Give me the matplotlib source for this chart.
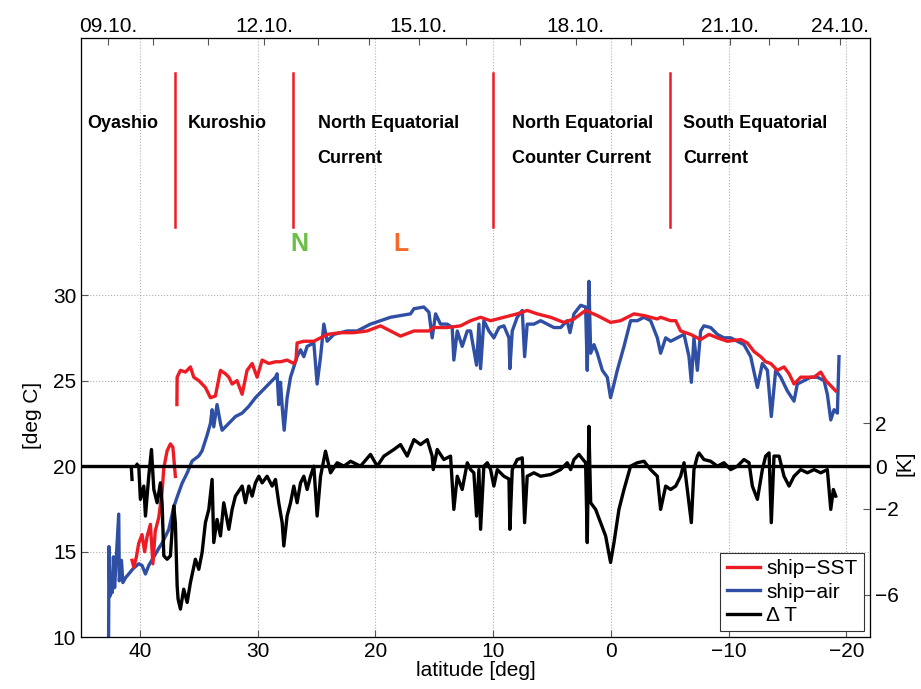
"""
Ship SST / air temperature along the cruise track vs latitude
"""
import matplotlib
matplotlib.use('Agg')
import matplotlib.pyplot as plt
import numpy as np

plt.rcParams['font.family'] = ['Liberation Sans', 'DejaVu Sans']
nan = np.nan

# ship-air temperature [deg C]
air_lat = [42.66, 42.63, 42.55, 42.45, 42.37, 42.25, 42.15, 41.80, 41.75, 41.57, 41.45, 41.2,
           40.95, 40.6, 40.10, 39.82, 39.53, 39.25, 38.82, 38.40, 38.12, 37.55, 37.13, 36.84,
           36.42, 35.99, 35.57, 35.00, 34.72, 34.30, 34.01, 33.87, 33.73, 33.45, 33.16, 33.02,
           32.45, 31.89, 31.32, 30.75, 30.19, 29.62, 29.06, 28.49, 28.35, 28.21, 28.06, 27.90,
           27.75, 27.50, 27.21, 26.93, 26.65, 26.36, 26.08, 25.80, 25.51, 25.23, 24.95, 24.66,
           24.38, 24.10, 23.53, 22.97, 22.40, 21.55, 20.42, 19.57, 18.72, 17.87, 17.02, 16.73,
           15.89, 15.46, 15.18, 14.89, 14.47, 13.90, 13.48, 13.34, 13.05, 12.63, 12.20, 11.92,
           11.64, 11.41, 11.21, 11.07, 10.79, 10.36, 9.94, 9.51, 9.09, 8.66, 8.58, 8.38,
           7.96, 7.53, 7.33, 7.11, 6.54, 5.97, 5.41, 4.84, 4.27, 3.71, 3.48, 3.14,
           2.57, 2.15, 2.01, 1.87, 1.72, 1.44, 1.16, 0.73, 0.31, 0.03, -0.26, -0.54,
           -1.11, -1.67, -2.24, -2.81, -3.37, -3.94, -4.22, -4.65, -5.07, -5.64, -6.21, -6.63,
           -6.83, -7.05, -7.34, -7.62, -7.90, -8.47, -9.04, -9.60, -10.17, -10.74, -11.30, -11.87,
           -12.44, -12.86, -13.29, -13.62, -13.99, -14.42, -14.98, -15.55, -15.83, -16.40, -16.97, -17.53,
           -18.10, -18.38, -18.67, -18.95, -19.23, -19.37]
air_temp = [10.0, 15.3, 12.4, 13.0, 12.6, 14.7, 12.9, 17.2, 13.3, 14.5, 13.2, 13.5,
            13.7, 14.0, 14.3, 14.2, 13.7, 14.2, 14.7, 15.2, 15.5, 16.3, 17.6, 18.2,
            19.0, 19.6, 20.3, 20.6, 20.9, 21.8, 22.5, 23.3, 22.3, 23.6, 22.5, 22.1,
            22.5, 22.9, 23.1, 23.5, 24.0, 24.4, 24.8, 25.2, 25.4, 23.6, 24.9, 23.3,
            22.1, 24.0, 25.2, 25.8, 26.4, 26.8, 26.4, 27.0, 27.1, 27.2, 24.8, 26.4,
            28.3, 27.3, 27.7, 27.8, 27.9, 27.9, 28.3, 28.5, 28.7, 28.8, 28.9, 29.2,
            29.3, 29.0, 27.5, 28.9, 28.3, 28.3, 28.1, 26.2, 27.9, 27.0, 27.9, 27.9,
            26.8, 25.9, 28.3, 25.7, 28.5, 27.9, 27.5, 28.1, 28.2, 27.5, 25.7, 27.9,
            28.7, 29.1, 26.4, 28.3, 28.3, 28.5, 28.3, 28.1, 28.1, 28.5, 27.8, 28.9,
            29.4, 29.3, 25.6, 30.8, 26.6, 27.1, 26.6, 25.6, 25.2, 24.0, 24.8, 25.6,
            27.0, 28.5, 28.5, 28.7, 28.5, 27.5, 26.6, 27.5, 27.3, 27.5, 27.7, 26.4,
            24.9, 27.5, 25.6, 27.9, 28.2, 28.1, 27.7, 27.5, 27.5, 27.3, 27.1, 26.4,
            24.6, 26.0, 25.6, 22.9, 25.6, 25.2, 24.4, 23.8, 24.8, 25.0, 25.2, 25.2,
            25.0, 24.2, 22.7, 23.3, 23.1, 26.4]

# ship-SST [deg C], nan = gap in record
sst_lat = [40.67, 40.52, 40.3, 40.10, 39.82, 39.6, 39.39, 39.11, 38.9, 38.7, 38.40, 38.12,
           37.97, 37.69, 37.41, 37.2, 36.99, 36.92, 36.86, 36.84, 36.56, 36.13, 35.71, 35.43,
           35.00, 34.44, 34.01, 33.59, 33.16, 32.74, 32.45, 32.17, 31.75, 31.32, 30.90, 30.47,
           30.05, 29.62, 29.06, 28.49, 28.06, 27.5, 26.93, 26.75, 26.65, 26.08, 25.23, 24.66,
           24.10, 22.97, 21.83, 20.70, 19.57, 18.72, 17.87, 16.73, 15.46, 15.04, 13.90, 12.77,
           11.92, 11.07, 10.22, 9.09, 7.96, 7.11, 6.26, 5.12, 4.0, 3.14, 2.15, 1.16,
           0.03, -0.82, -1.96, -2.81, -3.94, -4.22, -5.07, -5.50, -5.92, -6.77, -7.62, -8.33,
           -9.04, -9.89, -11.02, -11.59, -12.15, -12.72, -13.14, -13.57, -14.13, -14.70, -15.13, -15.55,
           -16.12, -16.68, -17.25, -17.82, -18.24, -18.67, -19.09]
sst_temp = [14.5, 14.1, 14.7, 15.5, 16.0, 15.0, 15.9, 16.6, 14.3, 16.2, 17.0, 18.5,
            19.9, 20.9, 21.3, 21.1, 19.4, nan, 23.6, 25.2, 25.6, 25.5, 25.8, 25.2,
            25.0, 24.6, 24.0, 24.1, 25.6, 25.4, 25.2, 24.8, 25.0, 24.2, 25.6, 26.0,
            25.2, 26.2, 26.0, 26.1, 26.1, 26.2, 26.0, 26.2, 27.2, 27.3, 27.3, 27.5,
            27.7, 27.8, 27.8, 27.9, 28.2, 27.9, 27.6, 27.9, 27.9, 28.1, 28.1, 28.2,
            28.5, 28.7, 28.5, 28.7, 28.9, 29.1, 28.9, 28.7, 28.4, 28.6, 29.1, 28.8,
            28.4, 28.5, 28.9, 28.8, 28.6, 28.7, 28.5, 28.5, 27.9, 27.7, 27.4, 27.7,
            27.5, 27.3, 27.4, 27.2, 26.7, 26.4, 26.1, 26.0, 25.6, 25.8, 25.4, 24.8,
            25.2, 25.2, 25.2, 25.5, 25.0, 24.7, 24.4]

# Delta T [K]
dt_lat = [40.72, 40.67, 40.6, 40.24, 40.10, 39.96, 39.67, 39.53, 39.25, 39.02, 38.82, 38.54,
          38.26, 38.12, 37.97, 37.69, 37.41, 37.13, 36.99, 36.84, 36.76, 36.56, 36.28, 35.99,
          35.71, 35.29, 35.00, 34.72, 34.44, 34.15, 33.87, 33.73, 33.45, 33.16, 32.88, 32.45,
          32.17, 31.89, 31.32, 31.04, 30.75, 30.47, 30.19, 29.90, 29.62, 29.20, 28.77, 28.49,
          28.21, 27.92, 27.78, 27.50, 27.21, 26.93, 26.65, 26.36, 26.08, 25.80, 25.51, 25.23,
          24.95, 24.66, 24.38, 24.24, 23.81, 23.25, 22.68, 22.11, 21.27, 20.42, 19.85, 19.28,
          18.43, 17.87, 17.30, 16.73, 16.17, 15.60, 15.18, 15.09, 14.75, 14.19, 13.62, 13.34,
          13.05, 12.63, 12.20, 11.92, 11.64, 11.41, 11.21, 11.07, 10.79, 10.50, 10.22, 9.94,
          9.65, 9.09, 8.66, 8.58, 8.38, 7.96, 7.53, 7.33, 7.11, 6.54, 5.97, 5.12,
          4.27, 3.71, 3.42, 3.14, 2.72, 2.15, 2.01, 1.87, 1.72, 1.30, 0.88, 0.45,
          0.03, -0.26, -0.68, -1.11, -1.67, -2.24, -2.81, -3.37, -3.94, -4.22, -4.65, -5.07,
          -5.50, -5.92, -6.21, -6.63, -6.83, -7.05, -7.34, -7.48, -7.90, -8.47, -9.04, -9.60,
          -10.17, -10.74, -11.30, -11.73, -12.01, -12.44, -12.86, -13.14, -13.43, -13.62, -13.85, -14.28,
          -14.70, -15.13, -15.55, -16.12, -16.68, -17.25, -17.82, -18.38, -18.67, -18.89, -19.09]
dt_val = [-0.16, -0.62, nan, 0.08, 0.0, -1.55, -0.93, -2.33, -0.47, 0.78, -1.09, -1.71,
          -0.78, -1.71, -4.19, -4.35, -4.19, -1.86, -2.64, -5.59, -6.21, -6.68, -5.75, -6.37,
          -5.44, -4.35, -4.82, -4.04, -2.64, -2.02, -0.62, -3.57, -2.49, -3.26, -1.71, -2.95,
          -2.02, -1.40, -0.93, -1.71, -0.93, -1.40, -0.78, -0.47, -0.78, -0.47, -0.93, -0.62,
          -1.71, -2.64, -3.73, -2.33, -1.71, -0.93, -1.71, -0.78, -0.47, -1.09, -0.47, 0.0,
          -2.33, -0.47, 0.31, 0.70, -0.31, 0.16, 0.0, 0.23, 0.0, 0.55, 0.0, 0.47,
          0.78, 1.01, 0.47, 1.24, 1.01, 1.24, 0.47, -0.16, 0.78, 0.31, 0.47, -2.02,
          -0.47, -1.09, 0.16, -0.16, -0.31, -2.33, -0.16, -2.95, 0.0, 0.16, -0.16, -0.93,
          -0.16, -0.47, -0.6, -2.95, -0.16, 0.31, 0.39, -2.64, -0.47, -0.31, -0.47, -0.39,
          -0.16, 0.16, -0.16, 0.31, 0.55, 0.16, -3.57, 1.86, -1.71, -2.02, -2.64, -3.26,
          -4.50, -3.57, -2.02, -1.09, 0.0, 0.16, 0.23, -0.16, -0.47, -2.02, -0.93, -1.09,
          -0.93, -0.47, 0.16, -1.71, -2.64, -0.16, 0.47, 0.62, 0.31, 0.23, 0.0, 0.16,
          -0.16, 0.0, 0.31, 0.16, -0.93, -1.55, -0.16, 0.47, 0.62, -2.64, 0.47, 0.47,
          -0.47, -0.93, -0.47, -0.16, -0.31, -0.16, -0.31, -0.16, -2.02, -1.09, -1.40]

# current regions and top date axis
region_bounds = [37, 27, 10, -5]
region_names = ['Oyashio', 'Kuroshio', 'North Equatorial\nCurrent',
                'North Equatorial\nCounter Current', 'South Equatorial\nCurrent']
region_text_lat = [44.5, 35.9, 24.9, 8.4, -6.1]
day_lat = [42.68, 38.85, 34.19, 29.43, 24.90, 20.54, 16.32, 12.33, 7.75, 2.99,
           -1.67, -6.11, -10.11, -13.44, -15.89, -19.45]
day_labels = ['09.10.', '', '', '12.10.', '', '', '15.10.', '', '', '18.10.',
              '', '', '21.10.', '', '', '24.10.']

red = '#ed1c24'
blue = '#2f4fa5'
tick_col = '#555555'

fig = plt.figure(figsize=(9.21, 6.89), dpi=100)
ax = fig.add_axes([0.088, 0.075, 0.8566, 0.8694])

ax.plot(sst_lat, sst_temp, color=red, lw=2.4, label='ship\u2212SST', zorder=3)
ax.plot(air_lat, air_temp, color=blue, lw=2.4, label='ship\u2212air', zorder=2)
ax.set_xlim(45, -22)
ax.set_ylim(10, 45)
ax.set_yticks([10, 15, 20, 25, 30])
ax.set_xticks([40, 30, 20, 10, 0, -10, -20])
ax.grid(True, linestyle=':', color='#b0b0b0', lw=0.8)
ax.tick_params(direction='in', labelsize=15, length=5, color=tick_col)
ax.set_xlabel('latitude [deg]', fontsize=15, labelpad=0)
ax.set_ylabel('[deg C]', fontsize=15)
ax.yaxis.set_label_coords(-0.05, 0.37)
for s in ax.spines.values():
    s.set_color(tick_col)

# right axis for Delta T
ax2 = ax.twinx()
ax2.plot(dt_lat, dt_val, color='black', lw=2.4, label='\u0394 T')
ax2.axhline(0, color='black', lw=2.4)
ax2.set_ylim(-8, 20)
ax2.set_yticks([-6, -2, 0, 2])
ax2.tick_params(direction='in', labelsize=15, length=5, color=tick_col)
ax2.set_ylabel('[K]', fontsize=15)
ax2.yaxis.set_label_coords(1.032, 0.29)
ax2.set_xlim(45, -22)

# top axis with dates
ax3 = ax.twiny()
ax3.set_xlim(45, -22)
ax3.set_xticks(day_lat)
ax3.set_xticklabels(day_labels)
ax3.tick_params(direction='in', labelsize=15, length=5, color=tick_col, pad=2)

for b in region_bounds:
    ax.plot([b, b], [34, 43], color=red, lw=1.8, zorder=4)
for name, x in zip(region_names, region_text_lat):
    lines = name.split('\n')
    for k, line in enumerate(lines):
        ax.text(x, 40 - 2 * k, line, fontsize=13, fontweight='bold', ha='left', va='center')

ax.text(26.5, 33, 'N', color='#6cbf45', fontsize=18, fontweight='bold', ha='center', va='center')
ax.text(17.8, 33, 'L', color='#f26b2b', fontsize=18, fontweight='bold', ha='center', va='center')

h1, l1 = ax.get_legend_handles_labels()
h2, l2 = ax2.get_legend_handles_labels()
leg = ax2.legend(h1 + h2, l1 + l2, loc='lower right', fontsize=15, handlelength=1.6,
                 handletextpad=0.3, labelspacing=0.2, borderpad=0.3, borderaxespad=0.3,
                 fancybox=False, edgecolor='#333333', framealpha=1)
leg.get_frame().set_linewidth(0.8)

plt.savefig('out.png', dpi=100)
plt.close()
